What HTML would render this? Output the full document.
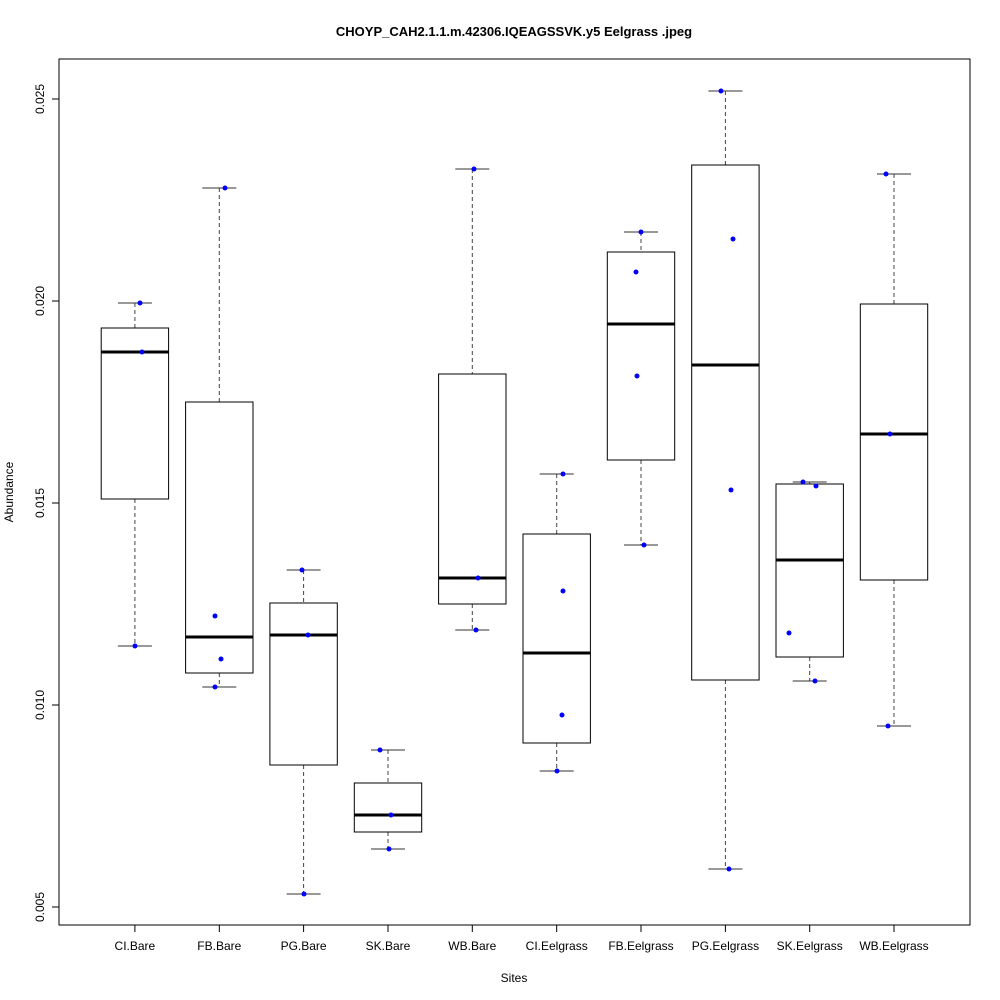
<!DOCTYPE html>
<html><head><style>body{margin:0;background:#fff}svg{display:block}</style></head><body>
<svg width="1000" height="1000" xmlns="http://www.w3.org/2000/svg" font-family="Liberation Sans, sans-serif">
<rect width="1000" height="1000" fill="#fff"/>
<text x="514" y="36" font-size="13" font-weight="bold" text-anchor="middle">CHOYP_CAH2.1.1.m.42306.IQEAGSSVK.y5 Eelgrass .jpeg</text>
<rect x="59" y="59" width="911" height="866" fill="none" stroke="#000"/>
<g stroke="#000">
<line x1="59" y1="99" x2="59" y2="907"/>
<line x1="52" y1="99" x2="59" y2="99"/><line x1="52" y1="301" x2="59" y2="301"/><line x1="52" y1="503" x2="59" y2="503"/><line x1="52" y1="705" x2="59" y2="705"/><line x1="52" y1="907" x2="59" y2="907"/>
<line x1="134.9" y1="925" x2="894" y2="925"/>
</g>
<g font-size="12" text-anchor="middle">
<text transform="translate(44,99) rotate(-90)">0.025</text>
<text transform="translate(44,301) rotate(-90)">0.020</text>
<text transform="translate(44,503) rotate(-90)">0.015</text>
<text transform="translate(44,705) rotate(-90)">0.010</text>
<text transform="translate(44,907) rotate(-90)">0.005</text>
<text transform="translate(13,492) rotate(-90)">Abundance</text>
<text x="514" y="982">Sites</text>
<text x="134.9" y="950">CI.Bare</text>
<text x="219.3" y="950">FB.Bare</text>
<text x="303.6" y="950">PG.Bare</text>
<text x="388" y="950">SK.Bare</text>
<text x="472.3" y="950">WB.Bare</text>
<text x="556.7" y="950">CI.Eelgrass</text>
<text x="641" y="950">FB.Eelgrass</text>
<text x="725.4" y="950">PG.Eelgrass</text>
<text x="809.7" y="950">SK.Eelgrass</text>
<text x="894" y="950">WB.Eelgrass</text>
</g>
<g stroke="#000" fill="none">
<path d="M134.9 925V932M219.3 925V932M303.6 925V932M388 925V932M472.3 925V932M556.7 925V932M641 925V932M725.4 925V932M809.7 925V932M894 925V932"/>
<path stroke="#444" stroke-dasharray="4,3" d="M134.9 303V328M134.9 499V646
M219.3 188V402M219.3 673V687
M303.6 570V603M303.6 765V894
M388 750V783M388 832V849
M472.3 169V374M472.3 604V630
M556.7 474V534M556.7 743V771
M641 232V252M641 460V545
M725.4 91V165M725.4 680V869
M809.7 482V484M809.7 657V681
M894 174V304M894 580V726"/>
<path stroke="#333" d="M117.9 303H151.9M117.9 646H151.9
M202.3 188H236.3M202.3 687H236.3
M286.6 570H320.6M286.6 894H320.6
M371 750H405M371 849H405
M455.3 169H489.3M455.3 630H489.3
M539.7 474H573.7M539.7 771H573.7
M624 232H658M624 545H658
M708.4 91H742.4M708.4 869H742.4
M792.7 482H826.7M792.7 681H826.7
M877 174H911M877 726H911"/>
<rect x="101.2" y="328" width="67.4" height="171"/>
<rect x="185.6" y="402" width="67.4" height="271"/>
<rect x="269.9" y="603" width="67.4" height="162"/>
<rect x="354.3" y="783" width="67.4" height="49"/>
<rect x="438.6" y="374" width="67.4" height="230"/>
<rect x="523" y="534" width="67.4" height="209"/>
<rect x="607.3" y="252" width="67.4" height="208"/>
<rect x="691.7" y="165" width="67.4" height="515"/>
<rect x="776" y="484" width="67.4" height="173"/>
<rect x="860.3" y="304" width="67.4" height="276"/>
<path stroke-width="3" d="M101.2 352H168.6M185.6 637H253M269.9 635H337.3M354.3 815H421.7M438.6 578H506M523 653H590.4M607.3 324H674.7M691.7 365H759.1M776 560H843.4M860.3 434H927.7"/>
</g>
<g fill="#0000ff">
<circle cx="140" cy="303" r="2.5"/><circle cx="142" cy="352" r="2.5"/><circle cx="135" cy="646" r="2.5"/>
<circle cx="225" cy="188" r="2.5"/><circle cx="215" cy="616" r="2.5"/><circle cx="221" cy="659" r="2.5"/><circle cx="215" cy="687" r="2.5"/>
<circle cx="302" cy="570" r="2.5"/><circle cx="308" cy="635" r="2.5"/><circle cx="304" cy="894" r="2.5"/>
<circle cx="380" cy="750" r="2.5"/><circle cx="391" cy="815" r="2.5"/><circle cx="389" cy="849" r="2.5"/>
<circle cx="474" cy="169" r="2.5"/><circle cx="478" cy="578" r="2.5"/><circle cx="476" cy="630" r="2.5"/>
<circle cx="563" cy="474" r="2.5"/><circle cx="563" cy="591" r="2.5"/><circle cx="562" cy="715" r="2.5"/><circle cx="557" cy="771" r="2.5"/>
<circle cx="641" cy="232" r="2.5"/><circle cx="636" cy="272" r="2.5"/><circle cx="637" cy="376" r="2.5"/><circle cx="644" cy="545" r="2.5"/>
<circle cx="721" cy="91" r="2.5"/><circle cx="733" cy="239" r="2.5"/><circle cx="731" cy="490" r="2.5"/><circle cx="729" cy="869" r="2.5"/>
<circle cx="803" cy="482" r="2.5"/><circle cx="816" cy="486" r="2.5"/><circle cx="789" cy="633" r="2.5"/><circle cx="815" cy="681" r="2.5"/>
<circle cx="886" cy="174" r="2.5"/><circle cx="890" cy="434" r="2.5"/><circle cx="888" cy="726" r="2.5"/>
</g>
</svg>
</body></html>
